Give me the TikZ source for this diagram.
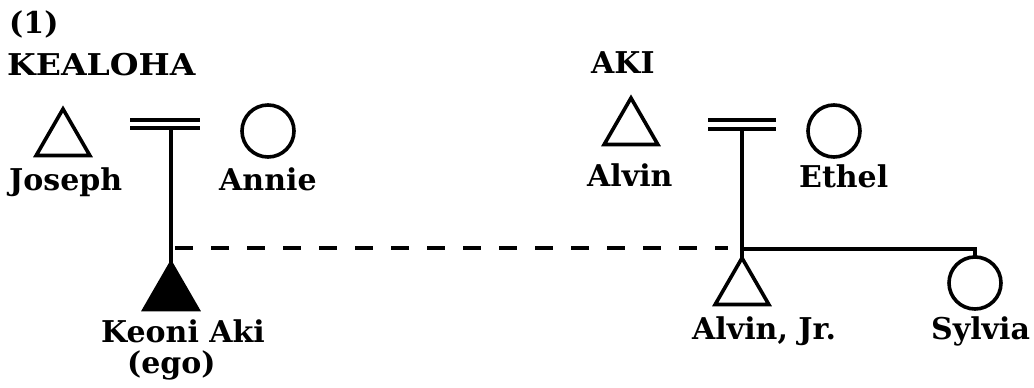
\documentclass[tikz,border=0pt]{standalone}
\usepackage{fontspec}
\usepackage{graphicx}
\newfontfamily\slabserif{DejaVu Serif}
\usetikzlibrary{shapes.geometric}
\begin{document}
\begin{tikzpicture}[x=1pt,y=-1pt,
  male/.style={regular polygon, regular polygon sides=3, draw, line width=3.6pt,
    minimum size=62pt, inner sep=0pt, outer sep=0pt, line join=miter},
  female/.style={circle, draw, line width=3.6pt, minimum size=52pt, inner sep=0pt, outer sep=0pt},
  egobox/.style={male, fill=black},
  label/.style={anchor=base west, inner sep=0pt, font=\slabserif\bfseries\fontsize{30}{34}\selectfont},
  tie/.style={line width=3.4pt},
  marriage/.style={line width=3.2pt},
  cousin/.style={line width=4pt, dash pattern=on 18pt off 18pt}]
\useasboundingbox (0,0) rectangle (1034,388);

% headings
\node[label] (num) at (9,34) {(1)};
\node[label] (kealoha) at (7,75) {\scalebox{1.1}[1]{KEALOHA}};
\node[label] (aki) at (591,73) {AKI};

% Kealoha family
\node[male] (joseph) at (63,140) {};
\node[female] (annie) at (268,131) {};
\node[egobox] (ego) at (171,294) {};
\coordinate (m1) at (171,128);
\draw[marriage] (130,120) -- (200,120);
\draw[marriage] (130,128) -- (200,128);

% Aki family
\node[male] (alvin) at (631,129) {};
\node[female] (ethel) at (834,131) {};
\node[male] (alvinjr) at (742,289) {};
\node[female] (sylvia) at (975,283) {};
\coordinate (m2) at (742,129);
\draw[marriage] (708,120) -- (776,120);
\draw[marriage] (708,129) -- (776,129);

% descent and sibling lines
\coordinate (j1) at (175,248);
\coordinate (j2) at (742,249);
\coordinate (dashend) at (728,248);
\draw[tie] (m1) -- (ego.corner 1);
\draw[tie] (m2) -- (alvinjr.corner 1);
\draw[tie] (j2) -| (sylvia.north);
\draw[cousin] (j1) -- (dashend);

% names
\node[label] (josephname) at (9,190) {Joseph};
\node[label] (anniename) at (219,190) {Annie};
\node[label] (alvinname) at (587,186) {Alvin};
\node[label] (ethelname) at (799,187) {Ethel};
\node[label] (egoname) at (101,342) {Keoni Aki};
\node[label] (egotag) at (127,373) {(ego)};
\node[label] (alvinjrname) at (692,339) {Alvin, Jr.};
\node[label] (sylvianame) at (931,339) {Sylvia};
\end{tikzpicture}
\end{document}
